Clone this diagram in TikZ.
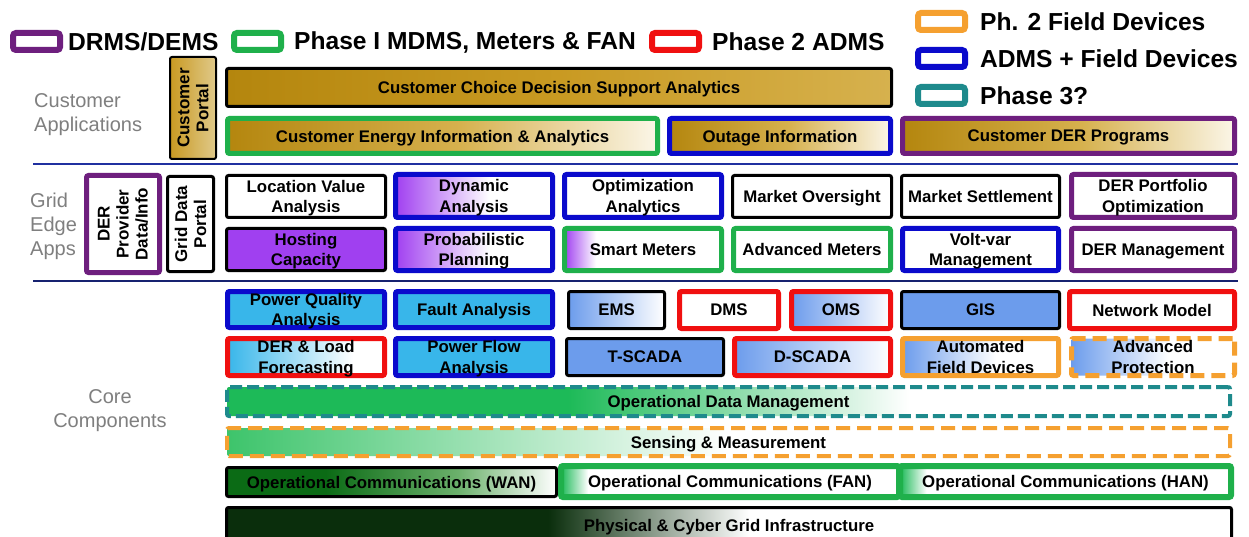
\documentclass[tikz,border=0pt]{standalone}
\usepackage{fontspec}
\setmainfont{Liberation Sans}
\definecolor{cpurple}{HTML}{6E1F7E}
\definecolor{cgreen}{HTML}{1FB04B}
\definecolor{cred}{HTML}{F01010}
\definecolor{corange}{HTML}{F5A030}
\definecolor{cblue}{HTML}{0A0ACC}
\definecolor{cteal}{HTML}{1E8A8C}
\definecolor{gold}{HTML}{B4860E}
\definecolor{goldmid}{HTML}{C99A22}
\definecolor{goldlt}{HTML}{D6B14E}
\definecolor{cream}{HTML}{FBF6E8}
\definecolor{tan}{HTML}{E0C98A}
\definecolor{violet}{HTML}{A040F0}
\definecolor{sky}{HTML}{38B6EA}
\definecolor{cfblue}{HTML}{6C9CEC}
\definecolor{lgreen}{HTML}{1DBA58}
\definecolor{sgreen}{HTML}{3DC46B}
\definecolor{dgreen}{HTML}{0B6B15}
\definecolor{mgreen}{HTML}{6BB06B}
\definecolor{vdgreen}{HTML}{0A2E0C}
\definecolor{labelgray}{HTML}{7F7F7F}
\definecolor{linecol}{HTML}{2030A0}
\pgfdeclarehorizontalshading{goldbar}{100bp}{color(0bp)=(gold); color(25bp)=(gold); color(50bp)=(goldmid); color(75bp)=(goldlt); color(100bp)=(goldlt)}
\pgfdeclarehorizontalshading{goldwhite}{100bp}{color(0bp)=(gold); color(25bp)=(gold); color(52bp)=(goldlt); color(75bp)=(cream); color(100bp)=(cream)}
\pgfdeclarehorizontalshading{portalshade}{100bp}{color(0bp)=(goldmid); color(25bp)=(goldmid); color(75bp)=(tan); color(100bp)=(tan)}
\pgfdeclarehorizontalshading{purplefade}{100bp}{color(0bp)=(violet); color(25bp)=(violet); color(55bp)=(white); color(100bp)=(white)}
\pgfdeclarehorizontalshading{purpleedge}{100bp}{color(0bp)=(violet); color(25bp)=(violet); color(35bp)=(white); color(100bp)=(white)}
\pgfdeclarehorizontalshading{cfwhite}{100bp}{color(0bp)=(cfblue); color(25bp)=(cfblue); color(75bp)=(white); color(100bp)=(white)}
\pgfdeclarehorizontalshading{cfhalf}{100bp}{color(0bp)=(cfblue); color(25bp)=(cfblue); color(55bp)=(white); color(100bp)=(white)}
\pgfdeclarehorizontalshading{skyfade}{100bp}{color(0bp)=(sky); color(25bp)=(sky); color(65bp)=(white); color(100bp)=(white)}
\pgfdeclarehorizontalshading{odmfade}{100bp}{color(0bp)=(lgreen); color(25bp)=(lgreen); color(42bp)=(lgreen); color(59bp)=(white); color(100bp)=(white)}
\pgfdeclarehorizontalshading{sensefade}{100bp}{color(0bp)=(sgreen); color(25bp)=(sgreen); color(50bp)=(white); color(100bp)=(white)}
\pgfdeclarehorizontalshading{wanfade}{100bp}{color(0bp)=(dgreen); color(25bp)=(dgreen); color(40bp)=(dgreen); color(60bp)=(mgreen); color(75bp)=(white); color(100bp)=(white)}
\pgfdeclarehorizontalshading{edgegreen}{100bp}{color(0bp)=(lgreen); color(25bp)=(lgreen); color(29bp)=(white); color(100bp)=(white)}
\pgfdeclarehorizontalshading{physfade}{100bp}{color(0bp)=(vdgreen); color(25bp)=(vdgreen); color(41bp)=(vdgreen); color(51bp)=(white); color(100bp)=(white)}
\newcommand\boxfont{\fontsize{16.8}{20.5}\selectfont\bfseries}
\newcommand\legfont{\fontsize{24.6}{28}\selectfont\bfseries}
\newcommand\sidefont{\fontsize{20}{24}\selectfont}
\newcommand\rotfont{\fontsize{17}{19}\selectfont\bfseries}
% name, x1, y1, x2, y2, line width, style, text
\newcommand\bx[8]{\node[boxbase,line width=#6pt,#7,minimum width={(#4)-(#2)-(#6)},minimum height={(#5)-(#3)-(#6)}] (#1) at ({((#2)+(#4))/2},{((#3)+(#5))/2}) {#8};}
\tikzset{
  boxbase/.style={draw,rounded corners=2pt,inner sep=0pt,align=center,font=\boxfont,text=black,fill=white,text depth=0pt},
  blk/.style={draw=black},
  pur/.style={draw=cpurple},
  grn/.style={draw=cgreen},
  rd/.style={draw=cred},
  org/.style={draw=corange},
  blu/.style={draw=cblue},
  tea/.style={draw=cteal},
  legbox/.style={draw,line width=6pt,rounded corners=3pt,fill=white,minimum width=47pt,minimum height=17pt,inner sep=0pt},
  legtext/.style={anchor=west,font=\legfont,inner sep=0pt},
  sidelabel/.style={font=\sidefont,text=labelgray,inner sep=0pt},
  sepline/.style={draw=linecol,line width=2pt},
  dashA/.style={dash pattern=on 12pt off 5pt},
  dashB/.style={dash pattern=on 14pt off 7pt},
}
\begin{document}
\begin{tikzpicture}[x=1pt,y=-1pt]
\clip (0,0) rectangle (1249,537);
\fill[white] (0,0) rectangle (1249,537);
% legend
\node[legbox,draw=cpurple] (lgp) at (36.5,41.5) {};
\node[legtext] (ltp) at (68,42) {DRMS/DEMS};
\node[legbox,draw=cgreen] (lgg) at (257.5,41.5) {};
\node[legtext] (ltg) at (294,42) {Phase I MDMS, Meters \& FAN};
\node[legbox,draw=cred] (lgr) at (675.5,41.5) {};
\node[legtext] (ltr) at (712,42) {Phase 2 ADMS};
\node[legbox,draw=corange] (lgo) at (941.5,21.5) {};
\node[legtext] (lto) at (980,22) {Ph. 2 Field Devices};
\node[legbox,draw=cblue] (lgb) at (941.5,58.5) {};
\node[legtext] (ltb) at (980,59) {ADMS + Field Devices};
\node[legbox,draw=cteal] (lgt) at (941.5,95.5) {};
\node[legtext] (ltt) at (980,96) {Phase 3?};
% side labels
\node[sidelabel,anchor=west,align=left] (lcust) at (34,115) {Customer\\Applications};
\node[sidelabel,anchor=west,align=left] (lgrid) at (30,226) {Grid\\Edge\\Apps};
\node[sidelabel,align=center] (lcore) at (110,411) {Core\\Components};
% separators
\coordinate (s1a) at (33,164); \coordinate (s1b) at (1238,164);
\coordinate (s2a) at (33,281); \coordinate (s2b) at (1238,281);
\draw[sepline] (s1a) -- (s1b);
\draw[sepline,draw=linecol!70!black] (s2a) -- (s2b);
% customer applications
\bx{portal}{169}{56}{217}{160}{2}{blk,shading=portalshade,label={[rotate=90,align=center,font=\rotfont,inner sep=0pt]center:Customer\\Portal}}{}
\bx{ccdsa}{225}{67}{893}{108}{3}{blk,shading=goldbar}{Customer Choice Decision Support Analytics}
\bx{ceia}{225}{116}{660}{156}{5}{grn,shading=goldwhite}{Customer Energy Information \& Analytics}
\bx{outage}{667}{116}{893}{156}{5}{blu,shading=goldwhite}{Outage Information}
\bx{cder}{900}{116}{1237}{156}{5}{pur,shading=goldwhite}{Customer DER Programs}
% grid edge apps
\bx{derprov}{84}{173}{162}{275}{5}{pur,label={[rotate=90,align=center,font=\rotfont,inner sep=0pt]center:DER\\Provider\\Data/Info}}{}
\bx{gdp}{166}{175}{215}{273}{3}{blk,label={[rotate=90,align=center,font=\rotfont,inner sep=0pt]center:Grid Data\\Portal}}{}
\bx{lva}{225}{174}{387}{219}{3}{blk}{Location Value\\Analysis}
\bx{dyn}{393}{172}{555}{220}{5}{blu,shading=purplefade}{Dynamic\\Analysis}
\bx{opt}{562}{172}{724}{220}{5}{blu}{Optimization\\Analytics}
\bx{mo}{731}{174}{893}{219}{3}{blk}{Market Oversight}
\bx{ms}{900}{174}{1061}{219}{3}{blk}{Market Settlement}
\bx{derpo}{1069}{172}{1237}{220}{5}{pur}{DER Portfolio\\Optimization}
\bx{host}{225}{227}{387}{272}{3}{blk,fill=violet}{Hosting\\Capacity}
\bx{prob}{393}{226}{555}{273}{5}{blu,shading=purplefade}{Probabilistic\\Planning}
\bx{smart}{562}{226}{724}{273}{5}{grn,shading=purpleedge}{Smart Meters}
\bx{advm}{731}{226}{893}{273}{5}{grn}{Advanced Meters}
\bx{vv}{900}{226}{1061}{273}{5}{blu}{Volt-var\\Management}
\bx{derm}{1069}{226}{1237}{273}{5}{pur}{DER Management}
% core components
\bx{pqa}{225}{289}{387}{330}{5}{blu,fill=sky}{Power Quality\\Analysis}
\bx{fault}{393}{289}{555}{330}{5}{blu,fill=sky}{Fault Analysis}
\bx{ems}{567}{290}{666}{330}{3}{blk,shading=cfwhite}{EMS}
\bx{dms}{677}{289}{781}{331}{5}{rd}{DMS}
\bx{oms}{789}{289}{893}{331}{5}{rd,shading=cfwhite}{OMS}
\bx{gis}{900}{290}{1061}{330}{3}{blk,fill=cfblue}{GIS}
\bx{nm}{1067}{289}{1237}{331}{5}{rd}{Network Model}
\bx{derlf}{225}{336}{387}{378}{5}{rd,shading=skyfade}{DER \& Load\\Forecasting}
\bx{pf}{393}{336}{555}{378}{5}{blu,fill=sky}{Power Flow\\Analysis}
\bx{tscada}{565}{337}{725}{377}{3}{blk,fill=cfblue}{T-SCADA}
\bx{dscada}{732}{336}{893}{378}{5}{rd,shading=cfwhite}{D-SCADA}
\bx{afd}{900}{336}{1061}{378}{5}{org,shading=cfhalf}{Automated\\Field Devices}
\bx{ap}{1069}{336}{1237}{378}{5}{org,dashB,shading=cfhalf}{Advanced\\Protection}
\bx{odm}{225}{385}{1232}{418}{4}{tea,dashA,shading=odmfade}{Operational Data Management}
\bx{sense}{225}{426}{1232}{458}{4}{org,dashB,shading=sensefade}{Sensing \& Measurement}
\bx{wan}{225}{466}{558}{498}{3}{blk,shading=wanfade}{Operational Communications (WAN)}
\bx{fan}{558}{463}{902}{500}{6}{grn,shading=edgegreen}{Operational Communications (FAN)}
\bx{han}{897}{463}{1234}{500}{6}{grn,shading=edgegreen}{Operational Communications (HAN)}
\bx{phys}{225}{506}{1233}{545}{3}{blk,shading=physfade}{Physical \& Cyber Grid Infrastructure}
\end{tikzpicture}
\end{document}
